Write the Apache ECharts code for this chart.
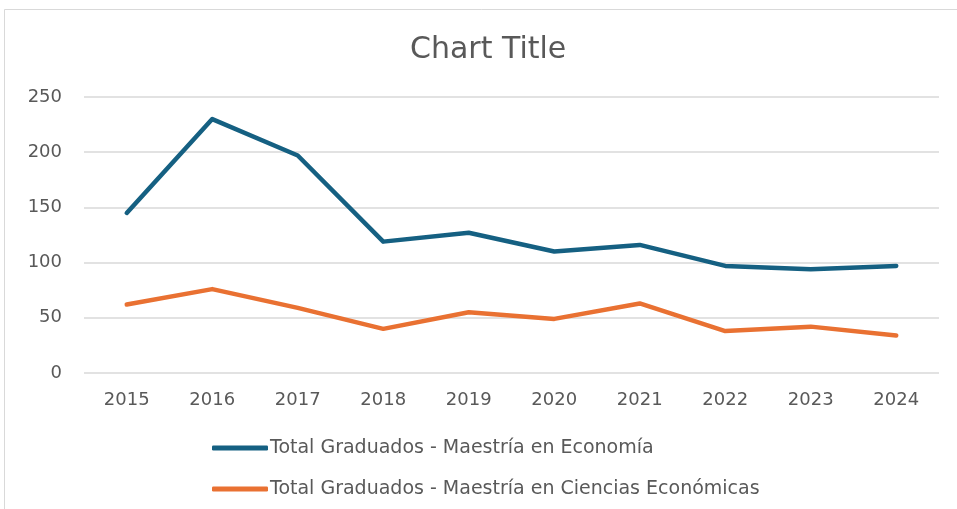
<!DOCTYPE html>
<html><head><meta charset="utf-8">
<script src="https://cdn.jsdelivr.net/npm/echarts@6/dist/echarts.min.js"></script>
<style>html,body{margin:0;padding:0;background:#fff}#c{width:957px;height:509px}</style>
</head><body><div id="c"></div>
<script>
const categories = ['2015','2016','2017','2018','2019','2020','2021','2022','2023','2024'];
const economia = [145, 230, 197, 119, 127, 110, 116, 97, 94, 97];
const ciencias = [62, 76, 59, 40, 55, 49, 63, 38, 42, 34];
const seriesNames = ['Total Graduados - Maestría en Economía', 'Total Graduados - Maestría en Ciencias Económicas'];
const yTicks = [0, 50, 100, 150, 200, 250];

const chart = echarts.init(document.getElementById('c'), null, {renderer: 'canvas'});
const font = '"DejaVu Sans", sans-serif';
chart.setOption({
  animation: false,
  backgroundColor: '#fff',
  graphic: [{type: 'rect', shape: {x: 4.5, y: 9.5, width: 1000, height: 600}, style: {fill: 'none', stroke: '#d9d9d9', lineWidth: 1}, silent: true, z: -1}],
  title: {text: 'Chart Title', left: 410, top: 35, padding: 0, textStyle: {fontFamily: font, fontSize: 30, fontWeight: 'normal', color: '#595959'}},
  grid: {left: 84, right: 18, top: 97, bottom: 136},
  xAxis: {
    type: 'category', data: categories, boundaryGap: true,
    axisLine: {show: false}, axisTick: {show: false},
    axisLabel: {fontFamily: font, fontSize: 18, color: '#595959', margin: 18}
  },
  yAxis: {
    type: 'value', min: yTicks[0], max: yTicks[yTicks.length - 1], interval: 50,
    axisLine: {show: false}, axisTick: {show: false},
    axisLabel: {fontFamily: font, fontSize: 18, color: '#595959', margin: 22},
    splitLine: {lineStyle: {color: '#d9d9d9', width: 1.5}}
  },
  legend: {
    orient: 'vertical', left: 212, top: 437, padding: 0, itemGap: 19, itemWidth: 56, itemHeight: 5, icon: 'roundRect',
    textStyle: {fontFamily: font, fontSize: 19, color: '#595959', padding: [0, 0, 0, -3], lineHeight: 22},
    data: seriesNames
  },
  series: [
    {name: seriesNames[0], type: 'line', data: economia, symbol: 'none', lineStyle: {color: '#156082', width: 4.5, cap: 'round', join: 'round'}, itemStyle: {color: '#156082'}},
    {name: seriesNames[1], type: 'line', data: ciencias, symbol: 'none', lineStyle: {color: '#E97132', width: 4.5, cap: 'round', join: 'round'}, itemStyle: {color: '#E97132'}}
  ]
});
</script></body></html>
